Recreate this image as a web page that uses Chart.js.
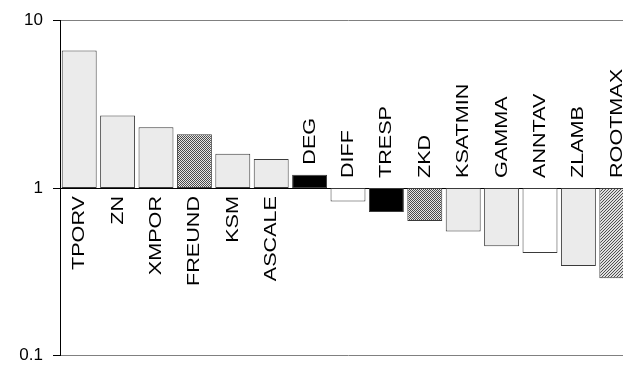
<!DOCTYPE html>
<html>
<head>
<meta charset="utf-8">
<script src="https://cdn.jsdelivr.net/npm/chart.js@4/dist/chart.umd.min.js"></script>
<style>
  html, body { margin: 0; padding: 0; background: #fff; overflow: hidden; }
  #wrap { width: 623px; height: 376px; overflow: hidden; }
</style>
</head>
<body>
<div id="wrap"><canvas id="myChart" width="640" height="376"></canvas></div>
<script>
// data
var parameters = ['TPORV', 'ZN', 'XMPOR', 'FREUND', 'KSM', 'ASCALE', 'DEG', 'DIFF',
                  'TRESP', 'ZKD', 'KSATMIN', 'GAMMA', 'ANNTAV', 'ZLAMB', 'ROOTMAX'];
var sensitivity = [6.6, 2.7, 2.3, 2.09, 1.6, 1.49, 1.2, 0.83,
                   0.72, 0.635, 0.55, 0.45, 0.41, 0.343, 0.29];
var baseline = 1;
var yTicks = [0.1, 1, 10];

// fill kind for each bar
var barStyles = ['light', 'light', 'light', 'checker', 'light', 'light', 'black', 'white',
                 'black', 'checker', 'light', 'light', 'white', 'light', 'hatch'];

function makePattern(size, dark, light, cells) {
    var c = document.createElement('canvas');
    c.width = size; c.height = size;
    var g = c.getContext('2d');
    g.fillStyle = light;
    g.fillRect(0, 0, size, size);
    g.fillStyle = dark;
    cells.forEach(function(p) { g.fillRect(p[0], p[1], 1, 1); });
    return g.createPattern(c, 'repeat');
}

var ctx = document.getElementById('myChart').getContext('2d');
var fills = {
    light: '#ebebeb',
    white: '#ffffff',
    black: '#000000',
    checker: makePattern(2, '#4a4a4a', '#e6e6e6', [[0, 0], [1, 1]]),
    hatch: makePattern(3, '#505050', '#e0e0e0', [[0, 2], [1, 1], [2, 0]])
};

// vertical parameter names next to each bar
var labelPlugin = {
    id: 'barLabels',
    afterDatasetsDraw: function(chart) {
        var c = chart.ctx;
        var meta = chart.getDatasetMeta(0);
        var yBase = chart.scales.y.getPixelForValue(baseline);
        c.save();
        c.fillStyle = '#000';
        c.font = '17px "Liberation Sans", Arial, sans-serif';
        c.textBaseline = 'alphabetic';
        meta.data.forEach(function(bar, i) {
            var top = Math.min(bar.y, bar.base);
            c.save();
            if (sensitivity[i] > 1.3) {
                c.translate(bar.x + 5, yBase + 8);
                c.textAlign = 'right';
            } else {
                c.translate(bar.x + 5, top - 10);
                c.textAlign = 'left';
            }
            c.rotate(-Math.PI / 2);
            c.scale(1.27, 1);
            c.fillText(parameters[i], 0, 0);
            c.restore();
        });
        c.restore();
    }
};

var chart = new Chart(ctx, {
    type: 'bar',
    data: {
        labels: parameters,
        datasets: [{
            data: sensitivity.map(function(v) { return [baseline, v]; }),
            backgroundColor: barStyles.map(function(s) { return fills[s]; }),
            borderColor: '#3a3a3a',
            borderWidth: 1,
            borderSkipped: false,
            barPercentage: 0.91,
            categoryPercentage: 1
        }]
    },
    options: {
        responsive: false,
        animation: false,
        layout: { padding: { left: 0, top: 16, right: 4, bottom: 18 } },
        plugins: { legend: { display: false }, tooltip: { enabled: false } },
        scales: {
            x: { display: false, offset: true },
            y: {
                type: 'logarithmic',
                min: 0.1,
                max: 10,
                afterBuildTicks: function(scale) {
                    scale.ticks = yTicks.map(function(v) { return { value: v }; });
                },
                afterFit: function(scale) { scale.width = 60; },
                ticks: {
                    color: '#000',
                    padding: 10,
                    font: { family: '"Liberation Sans", Arial, sans-serif', size: 17 },
                    callback: function(v) { return String(v); }
                },
                grid: {
                    color: function(c) { return c.tick && c.tick.value === 1 ? '#000' : '#808080'; },
                    lineWidth: 1,
                    tickLength: 7,
                    tickColor: '#000'
                },
                border: { color: '#000', width: 1 }
            }
        }
    },
    plugins: [labelPlugin]
});
</script>
</body>
</html>
